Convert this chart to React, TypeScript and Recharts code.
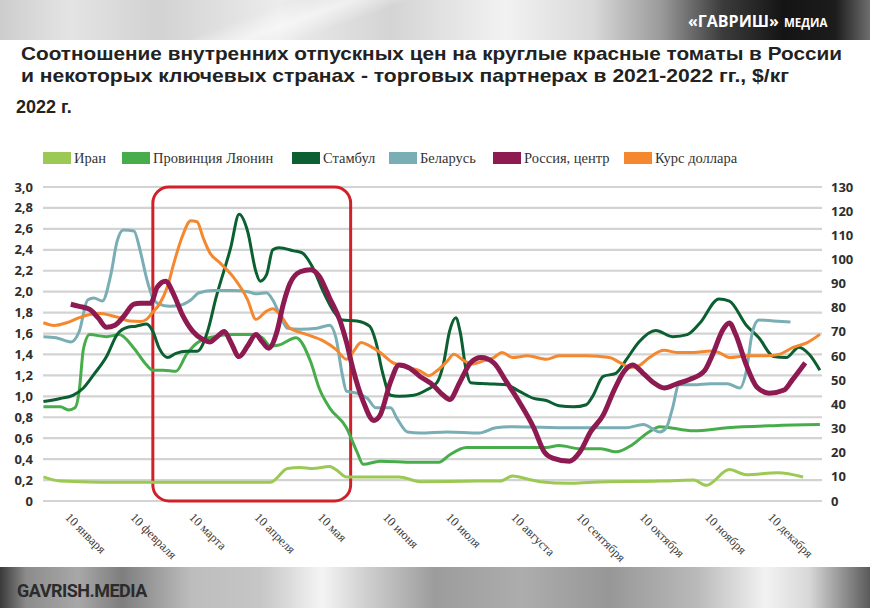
import React from 'react';
import { LineChart, Line, XAxis, YAxis, CartesianGrid, ReferenceArea } from 'recharts';

// x values are days of 2022 (0 = 1 January)
const monthTickDays = [9, 40, 68, 99, 129, 160, 190, 221, 252, 282, 313, 343];
const monthTickLabels = ['10 января', '10 февраля', '10 марта', '10 апреля', '10 мая', '10 июня', '10 июля', '10 августа', '10 сентября', '10 октября', '10 ноября', '10 декабря'];
const leftTicks = [0, 0.2, 0.4, 0.6, 0.8, 1.0, 1.2, 1.4, 1.6, 1.8, 2.0, 2.2, 2.4, 2.6, 2.8, 3.0];
const rightTicks = [0, 10, 20, 30, 40, 50, 60, 70, 80, 90, 100, 110, 120, 130];

const iranDays = [-1, 7, 26, 107, 115, 121, 127, 135, 138, 143, 159, 168, 178, 206, 216, 222, 229, 235, 249, 260, 292, 308, 314, 325, 333, 348, 360];
const iranValues = [0.23, 0.19, 0.18, 0.18, 0.31, 0.32, 0.31, 0.33, 0.30, 0.23, 0.23, 0.23, 0.185, 0.19, 0.19, 0.24, 0.21, 0.185, 0.17, 0.18, 0.19, 0.20, 0.15, 0.30, 0.25, 0.27, 0.23];

const liaoningDays = [-1, 7, 11, 14, 16, 18, 21, 29, 35, 42, 48, 51, 56, 62, 67, 72, 80, 89, 99, 103, 107, 111, 119, 126, 130, 135, 143, 148, 151, 159, 175, 187, 192, 200, 222, 238, 244, 254, 264, 271, 279, 286, 292, 308, 324, 346, 368];
const liaoningValues = [0.90, 0.90, 0.87, 0.89, 1.05, 1.45, 1.59, 1.57, 1.59, 1.46, 1.30, 1.25, 1.25, 1.24, 1.40, 1.51, 1.57, 1.59, 1.59, 1.56, 1.48, 1.49, 1.56, 1.33, 1.08, 0.89, 0.70, 0.47, 0.35, 0.38, 0.37, 0.37, 0.44, 0.51, 0.51, 0.51, 0.53, 0.50, 0.50, 0.47, 0.54, 0.65, 0.71, 0.67, 0.70, 0.72, 0.73];

const istanbulDays = [-1, 7, 13, 18, 23, 29, 34, 39, 43, 48, 51, 54, 58, 62, 67, 72, 77, 81, 88, 92, 96, 100, 102, 105, 108, 111, 118, 122, 127, 132, 137, 141, 148, 154, 157, 160, 164, 168, 175, 181, 186, 189, 192, 195, 197, 200, 202, 210, 219, 225, 232, 238, 244, 251, 257, 260, 265, 271, 276, 282, 290, 298, 305, 311, 320, 325, 333, 339, 346, 352, 358, 363, 368];
const istanbulValues = [0.95, 0.98, 1.01, 1.08, 1.21, 1.38, 1.59, 1.66, 1.67, 1.69, 1.62, 1.46, 1.37, 1.41, 1.43, 1.43, 1.62, 1.94, 2.42, 2.74, 2.58, 2.19, 2.10, 2.16, 2.40, 2.42, 2.39, 2.37, 2.23, 2.00, 1.81, 1.73, 1.72, 1.67, 1.52, 1.24, 1.01, 1.00, 1.01, 1.06, 1.13, 1.30, 1.62, 1.75, 1.62, 1.24, 1.13, 1.12, 1.11, 1.05, 0.98, 0.96, 0.91, 0.90, 0.92, 1.00, 1.19, 1.22, 1.35, 1.52, 1.63, 1.57, 1.59, 1.70, 1.93, 1.91, 1.68, 1.56, 1.38, 1.37, 1.47, 1.40, 1.25];

const belarusDays = [-1, 5, 12, 16, 20, 23, 27, 31, 34, 37, 42, 45, 48, 51, 54, 59, 64, 69, 73, 80, 89, 96, 100, 105, 108, 112, 115, 121, 129, 135, 138, 141, 143, 148, 153, 157, 164, 167, 172, 178, 191, 206, 214, 222, 249, 276, 284, 292, 295, 298, 301, 308, 316, 324, 330, 333, 336, 339, 346, 354];
const belarusValues = [1.57, 1.56, 1.52, 1.62, 1.92, 1.94, 1.91, 2.16, 2.48, 2.59, 2.58, 2.39, 2.13, 1.94, 1.88, 1.86, 1.87, 1.92, 1.99, 2.01, 2.01, 2.00, 1.98, 1.99, 1.92, 1.75, 1.65, 1.64, 1.65, 1.68, 1.56, 1.21, 1.05, 1.03, 0.98, 0.89, 0.89, 0.79, 0.66, 0.65, 0.66, 0.65, 0.70, 0.71, 0.70, 0.70, 0.73, 0.66, 0.70, 0.89, 1.11, 1.11, 1.12, 1.12, 1.08, 1.24, 1.62, 1.73, 1.72, 1.71];

const russiaDays = [12, 16, 21, 25, 29, 33, 37, 42, 45, 50, 53, 57, 61, 65, 70, 75, 78, 81, 85, 88, 92, 96, 100, 103, 106, 110, 113, 116, 121, 126, 130, 135, 140, 143, 146, 151, 156, 159, 164, 168, 173, 178, 184, 189, 192, 197, 202, 207, 213, 219, 225, 232, 237, 241, 249, 254, 259, 265, 270, 275, 279, 284, 289, 294, 300, 306, 313, 317, 322, 325, 328, 333, 338, 344, 351, 355, 361];
const russiaValues = [1.88, 1.86, 1.83, 1.75, 1.66, 1.68, 1.76, 1.88, 1.89, 1.89, 2.04, 2.10, 1.97, 1.78, 1.62, 1.54, 1.52, 1.56, 1.62, 1.52, 1.38, 1.48, 1.59, 1.52, 1.46, 1.62, 1.88, 2.07, 2.19, 2.21, 2.15, 1.94, 1.72, 1.52, 1.27, 0.95, 0.77, 0.82, 1.14, 1.30, 1.27, 1.19, 1.11, 1.01, 0.97, 1.14, 1.32, 1.37, 1.32, 1.14, 0.95, 0.70, 0.47, 0.41, 0.38, 0.47, 0.66, 0.82, 1.05, 1.24, 1.30, 1.22, 1.13, 1.08, 1.12, 1.16, 1.24, 1.40, 1.64, 1.70, 1.59, 1.30, 1.09, 1.03, 1.06, 1.16, 1.32];

const usdDays = [-1, 4, 10, 16, 21, 26, 31, 35, 40, 45, 48, 51, 54, 58, 61, 65, 69, 72, 75, 78, 83, 89, 96, 100, 105, 108, 112, 116, 124, 132, 138, 143, 146, 150, 154, 159, 165, 172, 178, 182, 186, 191, 194, 199, 203, 208, 213, 217, 222, 229, 238, 244, 257, 268, 273, 278, 282, 287, 294, 300, 308, 316, 320, 325, 333, 343, 349, 355, 362, 368];
const usdValues = [73.8, 72.7, 73.8, 75.9, 77.2, 77.6, 76.8, 75.9, 74.5, 74.3, 75.2, 78.2, 81.3, 88.9, 98.5, 109.5, 116, 115.6, 108.8, 102.9, 98.5, 93.0, 83.4, 75.2, 78.6, 79.6, 76.5, 71.7, 69.0, 66.3, 62.8, 58.7, 61.5, 65.6, 64.2, 61.5, 57.3, 55.3, 53.9, 51.9, 53.9, 58.0, 60.8, 58.0, 56.7, 58.0, 59.4, 61.5, 59.4, 60.1, 58.7, 60.1, 60.1, 59.4, 57.3, 55.3, 56.0, 59.4, 62.4, 61.5, 61.5, 62.1, 61.5, 59.4, 60.1, 60.1, 60.8, 63.5, 65.6, 69.0];

// highlighted period (red frame), days of 2022
const highlightStart = 51;
const highlightEnd = 145;

const toPoints = (days: number[], values: number[]) => days.map((d, i) => ({ day: d, value: values[i] }));

const series = [
  { name: 'Иран', color: '#9BC953', width: 3, axis: 'left', data: toPoints(iranDays, iranValues) },
  { name: 'Провинция Ляонин', color: '#47AD4B', width: 3, axis: 'left', data: toPoints(liaoningDays, liaoningValues) },
  { name: 'Стамбул', color: '#0B5F31', width: 3, axis: 'left', data: toPoints(istanbulDays, istanbulValues) },
  { name: 'Беларусь', color: '#78AEB4', width: 3, axis: 'left', data: toPoints(belarusDays, belarusValues) },
  { name: 'Курс доллара', color: '#F5882F', width: 3, axis: 'right', data: toPoints(usdDays, usdValues) },
  { name: 'Россия, центр', color: '#8D1B52', width: 5, axis: 'left', data: toPoints(russiaDays, russiaValues) },
];
const legendOrder = ['Иран', 'Провинция Ляонин', 'Стамбул', 'Беларусь', 'Россия, центр', 'Курс доллара'];
const legendLeft = [43, 122, 292, 389, 493, 624];

const XTick = (props: any) => {
  const { x, y, payload } = props;
  const idx = monthTickDays.indexOf(payload.value);
  const ty = y + 17;
  return (
    <text x={x} y={ty} transform={`rotate(45, ${x}, ${ty})`} textAnchor="start"
      fontFamily="'Liberation Serif', serif" fontSize={12.5} fill="#3a3a3a">
      {monthTickLabels[idx]}
    </text>
  );
};

const LeftTick = (props: any) => {
  const { x, y, payload } = props;
  const v = payload.value as number;
  const label = v === 0 ? '0' : v.toFixed(1).replace('.', ',');
  return (
    <text x={x - 10} y={y + 4.5} textAnchor="end" fontFamily="'Open Sans', sans-serif" fontWeight={700} fontSize={13} fill="#2e2e2e">
      {label}
    </text>
  );
};

const RightTick = (props: any) => {
  const { x, y, payload } = props;
  return (
    <text x={x + 9} y={y + 4.5} textAnchor="start" fontFamily="'Open Sans', sans-serif" fontWeight={700} fontSize={13} fill="#2e2e2e">
      {String(payload.value)}
    </text>
  );
};

const headerBg =
  'linear-gradient(160deg, rgba(255,255,255,0) 30%, rgba(255,255,255,0.55) 36%, rgba(255,255,255,0) 42%),' +
  'linear-gradient(90deg, #cdcdcd 0%, #e4e4e4 8%, #d2d2d2 18%, #ececec 32%, #d4d4d4 45%, #f2f2f2 58%, #dadada 68%, #9a9a9a 76%, #3c3c3c 83%, #141414 90%, #1c1c1c 96%, #6e6e6e 100%)';
const footerBg =
  'linear-gradient(90deg, #3a3a3a 0%, #8c8c8c 3%, #a8a8a8 9%, #7e7e7e 14%, #bdbdbd 22%, #c6c6c6 30%, #f4f4f4 37%, #d0d0d0 42%, #9c9c9c 50%, #adadad 60%, #979797 70%, #b9b9b9 80%, #f2f2f2 88%, #d8d8d8 93%, #5a5a5a 100%)';

export default function App() {
  const legendItems = legendOrder.map((n) => series.find((s) => s.name === n)!);
  return (
    <div style={{ position: 'absolute', left: 0, top: 0, width: 870, height: 608, background: '#fff', overflow: 'hidden' }}>
      <div style={{ position: 'absolute', left: 0, top: 0, width: 870, height: 40, background: headerBg }} />
      <div style={{ position: 'absolute', left: 0, top: 567, width: 870, height: 41, background: footerBg }} />

      {legendItems.map((s, i) => (
        <div key={s.name} style={{ position: 'absolute', left: legendLeft[i], top: 152, display: 'flex', alignItems: 'center', height: 12 }}>
          <div style={{ width: 28, height: 12, background: s.color, marginRight: 3 }} />
          <span style={{ fontFamily: "'Liberation Serif', serif", fontSize: 14.5, color: '#333', lineHeight: '12px', whiteSpace: 'nowrap' }}>{s.name}</span>
        </div>
      ))}

      <div style={{ position: 'absolute', left: 0, top: 0 }}>
        <LineChart width={870} height={608} margin={{ top: 187, right: 0, bottom: 0, left: 0 }}>
          <CartesianGrid vertical={false} yAxisId="left" stroke="#d3d3d3" strokeWidth={2.2} />
          <XAxis type="number" dataKey="day" domain={[-1.2, 369]} allowDataOverflow ticks={monthTickDays} interval={0}
            tick={XTick} tickLine={false} axisLine={false} height={107} tickSize={0} tickMargin={0} />
          <YAxis yAxisId="left" orientation="left" domain={[0, 3]} ticks={leftTicks} interval={0} width={43}
            tick={LeftTick} tickLine={false} axisLine={false} tickSize={0} tickMargin={0} />
          <YAxis yAxisId="right" orientation="right" domain={[0, 130]} ticks={rightTicks} interval={0} width={48}
            tick={RightTick} tickLine={false} axisLine={false} tickSize={0} tickMargin={0} />
          {series.map((s) => (
            <Line key={s.name} data={s.data} dataKey="value" name={s.name} yAxisId={s.axis} type="monotone"
              stroke={s.color} strokeWidth={s.width} dot={false} activeDot={false} isAnimationActive={false} />
          ))}
          <ReferenceArea yAxisId="left" x1={highlightStart} x2={highlightEnd} y1={0} y2={3} ifOverflow="visible"
            shape={(p: any) => (
              <rect x={p.x} y={p.y} width={p.width} height={p.height} rx={16} ry={16} fill="none" stroke="#D0212B" strokeWidth={3} />
            )} />
        </LineChart>
      </div>

      <svg style={{ position: 'absolute', left: 0, top: 0, pointerEvents: 'none' }} width={870} height={608}>
        <text x={688} y={27} fontFamily="'Open Sans', sans-serif" fontWeight={700} fontSize={16} fill="#ffffff">
          «ГАВРИШ»<tspan fontSize={11.5} dx={5}>МЕДИА</tspan>
        </text>
        <text x={21} y={60} textLength={821} lengthAdjust="spacingAndGlyphs" fontFamily="'Liberation Sans', Arial, sans-serif" fontWeight={700} fontSize={18.5} fill="#222">
          Соотношение внутренних отпускных цен на круглые красные томаты в России
        </text>
        <text x={21} y={82} textLength={768} lengthAdjust="spacingAndGlyphs" fontFamily="'Liberation Sans', Arial, sans-serif" fontWeight={700} fontSize={18.5} fill="#222">
          и некоторых ключевых странах - торговых партнерах в 2021-2022 гг., $/кг
        </text>
        <text x={16} y={113} fontFamily="'Liberation Sans', Arial, sans-serif" fontWeight={700} fontSize={18} fill="#222">
          2022 г.
        </text>
        <text x={17} y={597} fontFamily="Roboto, sans-serif" fontWeight={700} fontSize={18} fill="#2b2b2b" letterSpacing={-0.5}>
          GAVRISH.MEDIA
        </text>
      </svg>
    </div>
  );
}
